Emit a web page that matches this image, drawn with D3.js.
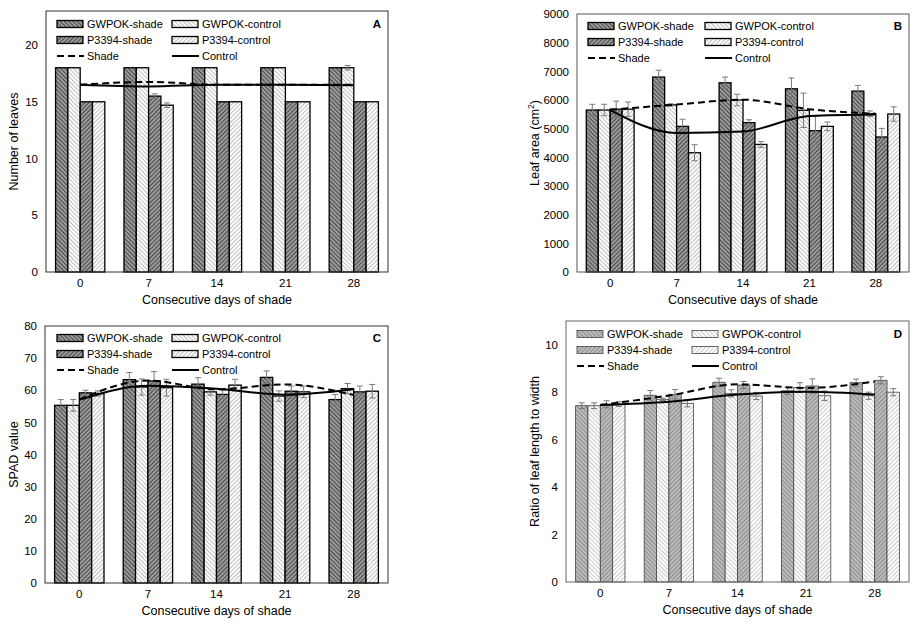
<!DOCTYPE html>
<html>
<head>
<meta charset="utf-8">
<script src="https://cdn.jsdelivr.net/npm/d3@7"></script>
<style>
  body { margin: 0; background: #fff; }
  svg { display: block; font-family: "Liberation Sans", Arial, sans-serif; }
</style>
</head>
<body>
<svg id="fig" width="923" height="629"></svg>
<script>
// categories and series
var days = ["0", "7", "14", "21", "28"];
var seriesNames = ["GWPOK-shade", "GWPOK-control", "P3394-shade", "P3394-control"];

// A - number of leaves (rows follow seriesNames)
var leafNum = [
  [18, 18, 18, 18, 18],
  [18, 18, 18, 18, 18],
  [15, 15.5, 15, 15, 15],
  [15, 14.7, 15, 15, 15]
];
var leafNumErr = [
  [0, 0, 0, 0, 0],
  [0, 0, 0, 0, 0.2],
  [0, 0.2, 0, 0, 0],
  [0, 0.2, 0, 0, 0]
];
var leafNumShade = [16.5, 16.75, 16.5, 16.5, 16.5];
var leafNumControl = [16.5, 16.35, 16.5, 16.5, 16.45];

// B - leaf area
var leafArea = [
  [5650, 6800, 6600, 6390, 6310],
  [5650, 5830, 6000, 5640, 5520],
  [5680, 5080, 5210, 4930, 4710],
  [5680, 4160, 4450, 5080, 5510]
];
var leafAreaErr = [
  [200, 240, 200, 380, 200],
  [200, 40, 200, 600, 100],
  [280, 250, 100, 500, 300],
  [250, 280, 100, 150, 250]
];
var leafAreaShade = [5660, 5840, 6010, 5680, 5520];
var leafAreaControl = [5650, 4850, 4900, 5440, 5490];

// C - SPAD value
var spad = [
  [55.3, 63.3, 61.9, 64.0, 57.1],
  [55.3, 61.0, 59.5, 58.2, 60.5],
  [59.2, 62.9, 58.7, 59.7, 59.5],
  [59.0, 60.8, 61.6, 59.5, 59.7]
];
var spadErr = [
  [1.8, 2.2, 2.0, 2.0, 1.6],
  [1.8, 2.5, 1.0, 1.6, 1.6],
  [0.8, 2.9, 1.4, 1.6, 1.8],
  [0.8, 2.6, 1.8, 1.8, 2.1]
];
var spadShade = [57.2, 63.0, 60.3, 61.8, 58.5];
var spadControl = [57.0, 61.4, 60.5, 58.6, 60.3];

// D - ratio of leaf length to width
var ratio = [
  [7.43, 7.87, 8.42, 8.06, 8.4],
  [7.43, 7.70, 7.95, 8.2, 7.85],
  [7.49, 7.91, 8.3, 8.26, 8.5],
  [7.5, 7.53, 7.84, 7.85, 8.0]
];
var ratioErr = [
  [0.12, 0.2, 0.17, 0.15, 0.15],
  [0.12, 0.05, 0.15, 0.2, 0.15],
  [0.15, 0.2, 0.15, 0.3, 0.15],
  [0.1, 0.15, 0.15, 0.2, 0.15]
];
var ratioShade = [7.46, 7.86, 8.33, 8.18, 8.45];
var ratioControl = [7.46, 7.6, 7.9, 8.02, 7.9];

var svg = d3.select("#fig");
var defs = svg.append("defs");

// hatch patterns: "\\" for GWPOK, "//" for P3394
function hatch(id, bg, fg, angle) {
  var p = defs.append("pattern")
    .attr("id", id)
    .attr("patternUnits", "userSpaceOnUse")
    .attr("width", 3).attr("height", 3)
    .attr("patternTransform", "rotate(" + angle + ")");
  p.append("rect").attr("width", 3).attr("height", 3).attr("fill", bg);
  p.append("line").attr("x1", 0.5).attr("y1", 0).attr("x2", 0.5).attr("y2", 3)
    .attr("stroke", fg).attr("stroke-width", 1);
}
hatch("gs", "#9a9a9a", "#4a4a4a", -45);
hatch("gc", "#fff", "#bdbdbd", -45);
hatch("ps", "#9a9a9a", "#4a4a4a", 45);
hatch("pc", "#fff", "#bdbdbd", 45);
// lighter version for panel D
hatch("gsD", "#bcbcbc", "#8c8c8c", -45);
hatch("gcD", "#fff", "#c8c8c8", -45);
hatch("psD", "#bcbcbc", "#8c8c8c", 45);
hatch("pcD", "#fff", "#c8c8c8", 45);

var panels = [
  { letter: "A", vals: leafNum, errs: leafNumErr, shade: leafNumShade, control: leafNumControl,
    box: [46, 11, 388, 272], max: 23, ticks: d3.range(0, 21, 5), ytitle: "Number of leaves", ytx: 14,
    frame: "#333", barStroke: "#000", barWidth: 1.3, fills: ["gs", "gc", "ps", "pc"],
    leg: { y: 24, x1: 57, x2: 172 } },
  { letter: "B", vals: leafArea, errs: leafAreaErr, shade: leafAreaShade, control: leafAreaControl,
    box: [577, 14, 909, 272], max: 9000, ticks: d3.range(0, 9001, 1000), ytitle: "Leaf area (cm", sup: "2", ytitleEnd: ")", ytx: 535,
    frame: "#555", barStroke: "#000", barWidth: 1.3, fills: ["gs", "gc", "ps", "pc"],
    leg: { y: 26, x1: 588, x2: 705 } },
  { letter: "C", vals: spad, errs: spadErr, shade: spadShade, control: spadControl,
    box: [45, 326, 388, 583], max: 80, ticks: d3.range(0, 81, 10), ytitle: "SPAD value", ytx: 14,
    frame: "#333", barStroke: "#000", barWidth: 1.3, fills: ["gs", "gc", "ps", "pc"],
    leg: { y: 338, x1: 57, x2: 172 } },
  { letter: "D", vals: ratio, errs: ratioErr, shade: ratioShade, control: ratioControl,
    box: [566, 321, 909, 582], max: 11, ticks: d3.range(0, 11, 2), ytitle: "Ratio of leaf length to width", ytx: 535,
    frame: "#666", barStroke: "#444", barWidth: 0.8, fills: ["gsD", "gcD", "psD", "pcD"],
    leg: { y: 334, x1: 577, x2: 692 } }
];

panels.forEach(function(pn) {
  var L = pn.box[0], T = pn.box[1], R = pn.box[2], B = pn.box[3];
  var g = svg.append("g");

  var x0 = d3.scaleBand().domain(days).range([L, R]).paddingInner(0.28).paddingOuter(0.14);
  var x1 = d3.scaleBand().domain(d3.range(4)).range([0, x0.bandwidth()]);
  var y = d3.scaleLinear().domain([0, pn.max]).range([B, T]);

  // y axis labels
  g.append("g")
    .attr("transform", "translate(" + L + ",0)")
    .call(d3.axisLeft(y).tickValues(pn.ticks).tickFormat(d3.format("d")).tickSize(0).tickPadding(8))
    .call(function(a) { a.select(".domain").remove(); })
    .selectAll("text").attr("font-size", 11.5).attr("fill", "#000")
    .attr("font-family", "Liberation Sans, Arial, sans-serif");

  // x axis labels
  g.append("g")
    .attr("transform", "translate(0," + B + ")")
    .call(d3.axisBottom(x0).tickSize(0).tickPadding(7))
    .call(function(a) { a.select(".domain").remove(); })
    .selectAll("text").attr("font-size", 11.5).attr("fill", "#000")
    .attr("font-family", "Liberation Sans, Arial, sans-serif");

  // bars
  pn.vals.forEach(function(row, s) {
    g.selectAll(".bar" + s)
      .data(row)
      .enter().append("rect")
      .attr("x", function(d, i) { return x0(days[i]) + x1(s); })
      .attr("width", x1.bandwidth())
      .attr("y", function(d) { return y(d); })
      .attr("height", function(d) { return B - y(d); })
      .attr("fill", "url(#" + pn.fills[s] + ")")
      .attr("stroke", pn.barStroke)
      .attr("stroke-width", pn.barWidth);
  });

  // error bars
  pn.vals.forEach(function(row, s) {
    row.forEach(function(v, i) {
      var e = pn.errs[s][i];
      if (!e) return;
      var cx = x0(days[i]) + x1(s) + x1.bandwidth() / 2;
      var eg = g.append("g").attr("stroke", "#7a7a7a").attr("stroke-width", 1);
      eg.append("line").attr("x1", cx).attr("x2", cx).attr("y1", y(v - e)).attr("y2", y(v + e));
      eg.append("line").attr("x1", cx - 3).attr("x2", cx + 3).attr("y1", y(v - e)).attr("y2", y(v - e));
      eg.append("line").attr("x1", cx - 3).attr("x2", cx + 3).attr("y1", y(v + e)).attr("y2", y(v + e));
    });
  });

  // smoothed mean lines
  var line = d3.line()
    .x(function(d, i) { return x0(days[i]) + x0.bandwidth() / 2; })
    .y(function(d) { return y(d); })
    .curve(d3.curveMonotoneX);

  g.append("path").datum(pn.shade).attr("d", line)
    .attr("fill", "none").attr("stroke", "#000").attr("stroke-width", 2)
    .attr("stroke-dasharray", "7,4");
  g.append("path").datum(pn.control).attr("d", line)
    .attr("fill", "none").attr("stroke", "#000").attr("stroke-width", 2);

  // frame
  g.append("rect")
    .attr("x", L).attr("y", T).attr("width", R - L).attr("height", B - T)
    .attr("fill", "none").attr("stroke", pn.frame).attr("stroke-width", 1);

  // legend
  var lg = pn.leg;
  var legItems = [
    { kind: "bar", s: 0, col: 0, row: 0 },
    { kind: "bar", s: 1, col: 1, row: 0 },
    { kind: "bar", s: 2, col: 0, row: 1 },
    { kind: "bar", s: 3, col: 1, row: 1 },
    { kind: "line", name: "Shade", dash: "7,4", col: 0, row: 2 },
    { kind: "line", name: "Control", dash: null, col: 1, row: 2 }
  ];
  legItems.forEach(function(it) {
    var lx = it.col === 0 ? lg.x1 : lg.x2;
    var ly = lg.y + it.row * 16;
    if (it.kind === "bar") {
      g.append("rect").attr("x", lx).attr("y", ly - 3.5).attr("width", 26).attr("height", 7)
        .attr("fill", "url(#" + pn.fills[it.s] + ")")
        .attr("stroke", pn.barStroke).attr("stroke-width", pn.barWidth);
    } else {
      g.append("line").attr("x1", lx).attr("x2", lx + 27).attr("y1", ly).attr("y2", ly)
        .attr("stroke", "#000").attr("stroke-width", 2)
        .attr("stroke-dasharray", it.dash);
    }
    g.append("text").attr("x", lx + 30).attr("y", ly).attr("dy", "0.35em")
      .attr("font-size", 11)
      .text(it.kind === "bar" ? seriesNames[it.s] : it.name);
  });

  // panel letter
  g.append("text").attr("x", R - 7).attr("y", lg.y).attr("dy", "0.35em")
    .attr("text-anchor", "end").attr("font-weight", "bold").attr("font-size", 11.5)
    .text(pn.letter);

  // axis titles
  g.append("text")
    .attr("x", (L + R) / 2).attr("y", B + 32)
    .attr("text-anchor", "middle").attr("font-size", 12.5)
    .text("Consecutive days of shade");

  var yt = g.append("text")
    .attr("transform", "translate(" + pn.ytx + "," + ((T + B) / 2) + ") rotate(-90)")
    .attr("dy", "0.35em")
    .attr("text-anchor", "middle").attr("font-size", 12.5)
    .text(pn.ytitle);
  if (pn.sup) {
    yt.append("tspan").attr("baseline-shift", "super").attr("font-size", 8.5).text(pn.sup);
    yt.append("tspan").text(pn.ytitleEnd);
  }
});
</script>
</body>
</html>
